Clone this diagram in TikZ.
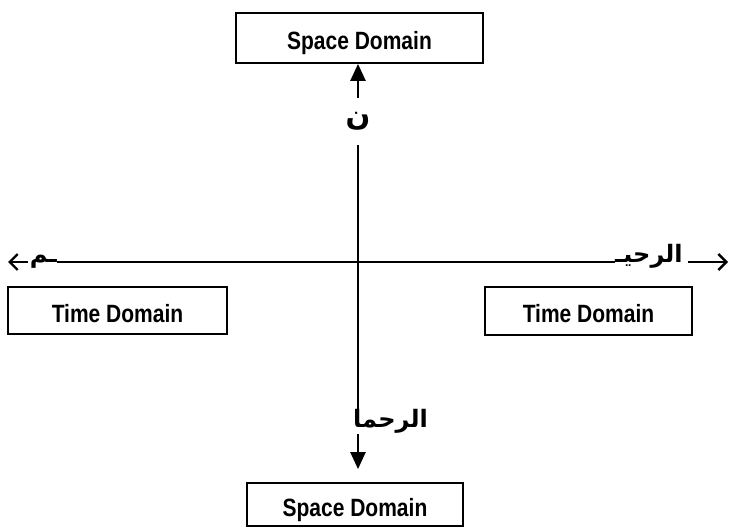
\documentclass[tikz,border=0pt]{standalone}
\usepackage{fontspec}
\setmainfont{Liberation Sans}
\newfontfamily\narrowfont[FakeStretch=0.84]{Liberation Sans}
\newfontfamily\arabicfont[Script=Arabic]{DejaVu Sans}
\TeXXeTstate=1
\usetikzlibrary{arrows.meta}
\begin{document}
\begin{tikzpicture}[x=1bp,y=-1bp,
  domainbox/.style={draw,line width=1.8bp,inner sep=0pt,text height=28bp,text depth=5bp,
    font=\narrowfont\bfseries\fontsize{25bp}{30bp}\selectfont},
  arlabel/.style={inner sep=0pt,font=\arabicfont\bfseries\fontsize{24bp}{28bp}\selectfont},
  axis/.style={line width=2.4bp},
  tri/.style={axis,-{Triangle[length=17bp,width=15bp]}},
  barb/.style={axis,-{Straight Barb[length=8bp,width=16bp,line width=2.4bp]}}]
\useasboundingbox (0,0) rectangle (729,528);
% boxes
\node[domainbox,minimum width=247bp,minimum height=50bp] (sd1) at (359.5,38) {Space Domain};
\node[domainbox,minimum width=216bp,minimum height=43bp] (sd2) at (355,504.5) {Space Domain};
\node[domainbox,minimum width=219bp,minimum height=47bp] (td1) at (117.5,310.5) {Time Domain};
\node[domainbox,minimum width=207bp,minimum height=48bp] (td2) at (588.5,311) {Time Domain};
% centre
\coordinate (c) at (358,262);
% vertical labels
\node[arlabel,minimum height=47bp,font=\arabicfont\bfseries\fontsize{29bp}{32bp}\selectfont] (n) at (358,121.5) {\beginR ن\endR};
\node[arlabel,anchor=base west,text height=16bp,text depth=7bp] (rahma) at (353,427) {\beginR الرحما\endR};
% horizontal labels
\node[arlabel,anchor=base east] (meem) at (57,263) {\beginR ـم\endR};
\node[arlabel,anchor=base west] (rahi) at (615,263) {\beginR الرحيـ\endR};
\coordinate (lt) at (8,262);
\coordinate (rt) at (728,262);
% vertical axis
\draw[tri] (n.north) -- (n.north |- sd1.south);
\draw[axis] (c) -- (n.south);
\draw[axis] (c) -- (c |- rahma.north);
\draw[tri,shorten >=13bp] (c |- rahma.south) -- (c |- sd2.north);
% horizontal axis
\draw[axis] (meem.base east |- c) -- (rahi.base west |- c);
\draw[barb,shorten <=2bp] (meem.base west |- c) -- (lt);
\draw[barb,shorten <=5bp] (rahi.base east |- c) -- (rt);
\end{tikzpicture}
\end{document}
